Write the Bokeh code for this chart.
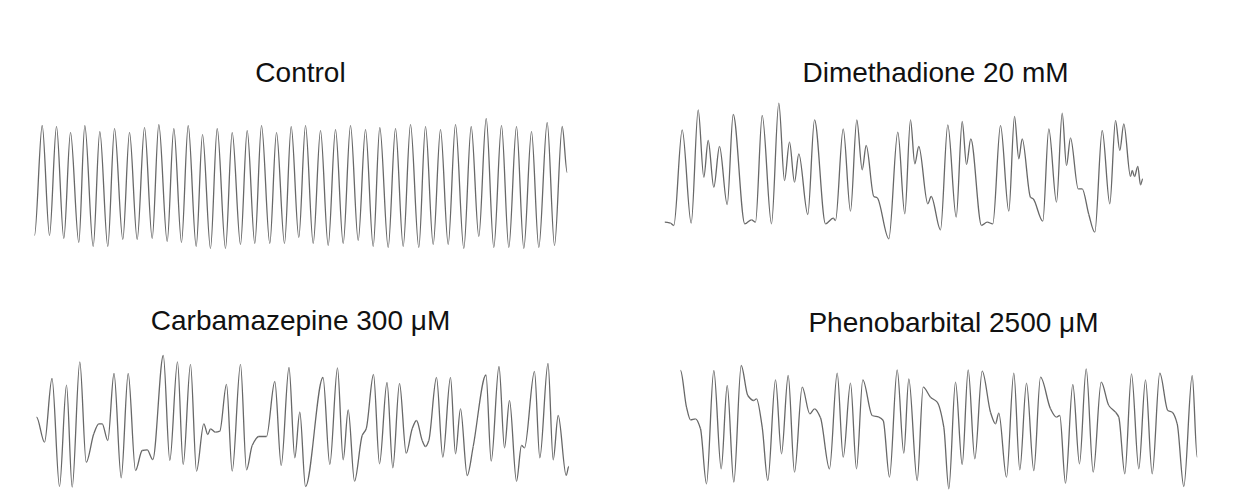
import numpy as np
from bokeh.plotting import figure
from bokeh.models import Range1d, Label, ColumnDataSource
from bokeh.layouts import column, row
from bokeh.embed import file_html
from bokeh.resources import INLINE

# ---------------- data (time, amplitude) ----------------
control_t = [0, 7.7, 15, 22, 29.3, 36, 44.3, 50.3, 58.7, 65.3, 73.3, 80, 88.3, 95, 102.7, 110, 117.7, 124.3,
             132.7, 139.3, 147, 153.7, 161.7, 168, 176, 182.7, 191, 197.7, 206, 212.7, 220.3, 227, 235.3, 242,
             250, 256.7, 264.3, 271, 278.7, 286, 293.7, 301, 308.7, 316, 323.7, 331, 338.7, 345.3, 353.7, 361,
             368.7, 376, 384.3, 391, 398.7, 406, 413.7, 421, 429.3, 436.7, 444.3, 451.7, 459.3, 467, 474.3, 482,
             489.3, 497, 504.3, 512.7, 520, 527.7, 532.7]
control_v = [15, 125, 15, 124, 12, 118, 8, 125, 4, 119, 4, 122, 11, 118, 11, 123, 12, 126, 9, 122, 8, 125, 4, 116,
             2, 122, 2, 118, 6, 120, 7, 125, 7, 118, 7, 124, 13, 125, 7, 120, 5, 121, 7, 125, 10, 121, 4, 123, 3, 122,
             4, 126, 3, 124, 6, 121, 6, 126, 2, 124, 14, 132, 3, 125, 3, 124, 2, 119, 3, 128, 5, 124, 78]

dimeth_t = [1.3, 7, 10.3, 18.7, 27.7, 34.7, 40.3, 44.7, 50.3, 56, 63.7, 69.7, 81.3, 88, 92, 98.7, 108, 115.3, 121,
            126, 131, 135.3, 144.3, 151, 162, 169.7, 172, 179.7, 187, 193.3, 198.7, 202.7, 210.3, 213.7, 225.3,
            234.3, 241.3, 247, 251.3, 255.3, 264.3, 267.7, 277, 284.3, 292.7, 298.7, 303, 307.3, 318, 323.7, 329.3,
            337, 345.3, 351, 355.3, 358.7, 367, 369.7, 379.3, 385.3, 393, 398.7, 403, 407, 414.7, 418.7, 425.3,
            431.3, 438.7, 446.3, 452, 456.3, 460.3, 467, 468.7, 471, 474.3, 477, 479.3]
dimeth_v = [18.3, 17.3, 15, 110.7, 17.3, 130.7, 63.3, 100, 53.3, 94, 36, 126, 16.7, 20.7, 18.3, 125, 16.7, 137.3,
            60, 98.3, 58.3, 86.7, 26, 120.7, 16.7, 22.3, 20, 111.7, 29.3, 120.7, 70.7, 95, 44, 42.7, 1.7, 108.3,
            26.7, 120.7, 76.7, 94, 36.7, 44, 10.7, 115.7, 23.3, 119, 76, 101.7, 15, 18.3, 16.7, 115, 29.3, 124,
            81.7, 101.7, 43.3, 41.7, 19.3, 111.7, 38.3, 127.3, 75, 102.7, 51.7, 51.7, 26, 8.3, 110, 36.7, 120, 90,
            116.7, 64, 70, 64, 74, 55.7, 61.7]

carba_t = [2, 10, 17.5, 25, 32, 37.7, 45.3, 51.7, 59.3, 64.3, 67.7, 73.3, 79.5, 86.7, 93.7, 101, 107.7, 112.7,
           118.3, 128.8, 135.3, 143, 148.7, 156, 162, 169.3, 173.3, 176, 181, 185.3, 192, 197.7, 206, 212, 217.7,
           224.3, 232, 240.3, 246.7, 254.5, 260.3, 265.3, 271, 288.5, 295.3, 303, 308.7, 313.7, 320, 327.7, 331.7,
           339, 345, 352.5, 358.3, 365, 371.7, 377.7, 382, 387.7, 391, 394.3, 402, 408.3, 416, 421, 426, 432.7,
           438.7, 451.5, 456.7, 464.5, 470, 475, 482, 487, 490, 500, 505.3, 513.5, 518.7, 523.7, 531.7, 534.3]
carba_v = [73.3, 48.3, 112, 4, 105.4, 3.3, 128.7, 28.3, 56.7, 66.7, 66.7, 50, 117, 12.7, 117, 20, 40, 40.7, 31,
           135, 30, 128.7, 26, 126.2, 19.3, 66.7, 56, 61.7, 58.3, 59.3, 106.1, 19.3, 126.2, 20.7, 45, 54, 54, 109,
           25, 123, 32.7, 78.3, 4, 113, 26, 122.5, 30.7, 80.7, 9.3, 55, 61.7, 116, 26.7, 108, 22.7, 107, 37.3,
           61.7, 70, 50, 44, 50, 113, 33.3, 113, 36.7, 81.7, 15, 44, 115.5, 29.3, 124, 42.7, 90, 9.3, 45, 42.7,
           119, 32.7, 127, 30.7, 75, 15, 24]

pheno_t = [2, 8, 12, 17, 22, 28, 35.3, 42.7, 48.7, 55.3, 62.7, 69.3, 75.3, 78, 83.7, 89.3, 97, 103, 109.7, 116,
           123.7, 131.3, 136, 142, 151, 158.7, 164.7, 172, 178, 184.3, 193.7, 200.3, 204.7, 211, 218.7, 225.3,
           230.3, 238.7, 244.7, 252, 258.7, 265.3, 270.3, 277, 283.7, 289.7, 296.3, 303.7, 312, 317, 320.3, 328,
           335.3, 341.3, 348, 355.3, 362, 372, 378, 381.3, 387, 394.3, 401, 407.7, 414.7, 422.7, 430.3, 437,
           440.3, 446.3, 453, 460.3, 467, 473.7, 481.3, 489.3, 493.7, 498.7, 505.3, 513.7, 518.7]
pheno_v = [120, 83.3, 70.7, 71.7, 61.7, 6.7, 120, 21.7, 105, 8.3, 125, 95, 90, 91.7, 63.3, 10, 110.7, 36.7, 115,
           18.3, 103.3, 76.7, 81.7, 72.7, 21.7, 117.3, 33.3, 107.3, 21.7, 110.7, 75, 73.3, 70, 13.3, 120.7, 37.3,
           111.7, 10, 103.3, 93.3, 88.3, 63.3, 1.7, 108.3, 26, 120.7, 31.7, 119.3, 78.3, 66.7, 77.3, 13.3, 117.3,
           20.7, 107.3, 20, 113.3, 81.7, 73.3, 75, 7.3, 106, 26.7, 121.7, 18.3, 108.3, 85, 78.3, 73.3, 16.7,
           116.7, 21.7, 110.7, 16.7, 117.3, 80, 78.3, 66.7, 4, 115, 33.3]

titles = ["Control", "Dimethadione 20 mM", "Carbamazepine 300 μM", "Phenobarbital 2500 μM"]

# ---------------- styling / layout ----------------
PW = 610
TOP_H, BOT_H = 256, 244
TRACE_COLOR = "#686868"
FONT = "Liberation Sans"
FONT_SIZE = "28px"


def smooth_segments(t, v):
    """Cubic (monotone Hermite) segments through the read points, as bezier parameters."""
    t = np.asarray(t, float)
    v = np.asarray(v, float)
    n = len(t)
    s = np.diff(v) / np.diff(t)
    m = np.zeros(n)
    for i in range(1, n - 1):
        if s[i - 1] * s[i] > 0:
            m[i] = 2.0 / (1.0 / s[i - 1] + 1.0 / s[i])
    dt = np.diff(t)
    return ColumnDataSource(dict(
        x0=t[:-1], y0=v[:-1], x1=t[1:], y1=v[1:],
        cx0=t[:-1] + dt / 3, cy0=v[:-1] + m[:-1] * dt / 3,
        cx1=t[1:] - dt / 3, cy1=v[1:] - m[1:] * dt / 3,
    ))


def panel(t, v, title, height, x_off, y_off, title_x, title_y):
    # x_off / y_off: data value shown at the panel's left edge / top edge
    p = figure(width=PW, height=height, output_backend="svg", toolbar_location=None,
               x_range=Range1d(x_off, x_off + PW), y_range=Range1d(y_off - height, y_off),
               x_axis_location=None, y_axis_location=None, min_border=0,
               outline_line_color=None, background_fill_color="white", border_fill_color="white")
    p.grid.visible = False
    p.bezier(x0="x0", y0="y0", x1="x1", y1="y1", cx0="cx0", cy0="cy0", cx1="cx1", cy1="cy1",
             source=smooth_segments(t, v), line_color=TRACE_COLOR, line_width=1.3)
    p.add_layout(Label(x=title_x, y=title_y, x_units="screen", y_units="screen", text=title,
                       text_align="center", text_baseline="alphabetic", text_font=FONT,
                       text_font_size=FONT_SIZE, text_color="#111111"))
    return p


p1 = panel(control_t, control_v, titles[0], TOP_H, -34, 250, 300, 184)
p2 = panel(dimeth_t, dimeth_v, titles[1], TOP_H, -53, 240, 325, 184)
p3 = panel(carba_t, carba_v, titles[2], BOT_H, -34, 234, 300, 180)
p4 = panel(pheno_t, pheno_v, titles[3], BOT_H, -68, 234, 343, 178)

layout = column(row(p1, p2, spacing=0), row(p3, p4, spacing=0), spacing=0)

open("out.html", "w").write(file_html(layout, INLINE))
